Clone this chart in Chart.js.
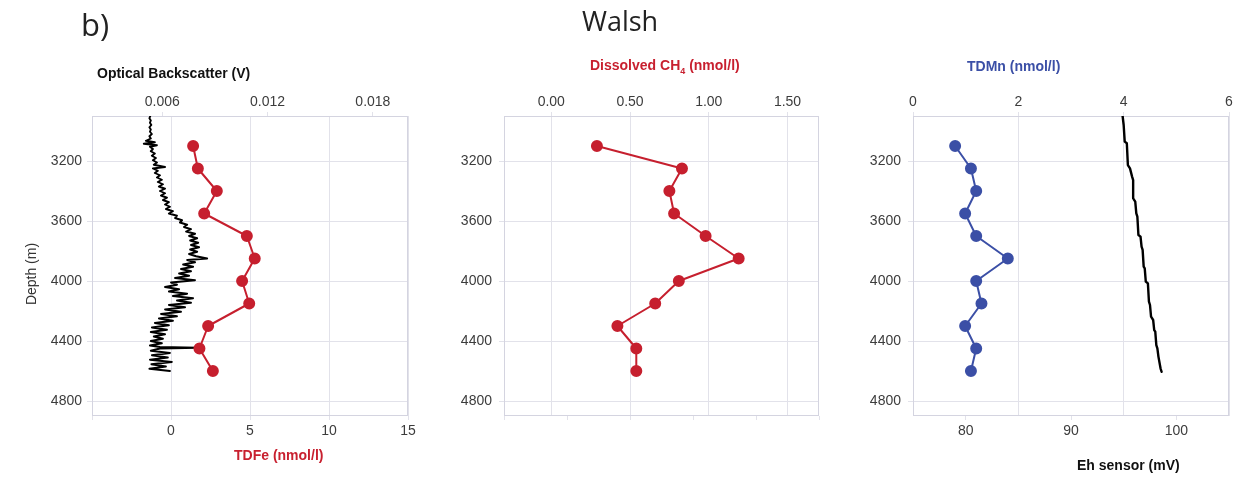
<!DOCTYPE html>
<html>
<head>
<meta charset="utf-8">
<script src="https://cdn.jsdelivr.net/npm/chart.js@4.4.0/dist/chart.umd.min.js"></script>
<style>
  body { margin: 0; width: 1241px; height: 477px; background: #fff; position: relative; overflow: hidden; font-family: "Liberation Sans", Arial, sans-serif; }
  canvas { position: absolute; top: 0; }
  .lbl { position: absolute; font-weight: bold; font-size: 14px; line-height: 16px; white-space: nowrap; z-index: 2; }
  .lbl sub { font-size: 9px; vertical-align: -4px; line-height: 0; }
</style>
</head>
<body>
<canvas id="panel-fe" width="420" height="477" style="left:0px"></canvas>
<canvas id="panel-ch4" width="410" height="477" style="left:430px"></canvas>
<canvas id="panel-mn" width="401" height="477" style="left:840px"></canvas>

<div style="position:absolute;left:81px;top:3px;font:31px 'Open Sans';color:#222">b)</div>
<div style="position:absolute;left:582px;top:2px;font:27px 'Open Sans';color:#222">Walsh</div>
<div style="position:absolute;left:-9px;top:266px;width:80px;text-align:center;font:14px 'Liberation Sans',Arial;color:#333;transform:rotate(-90deg)">Depth (m)</div>
<div class="lbl" style="left:97px;top:65px;color:#111">Optical Backscatter (V)</div>
<div class="lbl" style="left:234px;top:447px;color:#c8202f">TDFe (nmol/l)</div>
<div class="lbl" style="left:590px;top:57px;color:#c8202f">Dissolved CH<sub>4</sub> (nmol/l)</div>
<div class="lbl" style="left:967px;top:58px;color:#3b4fa6">TDMn (nmol/l)</div>
<div class="lbl" style="left:1077px;top:457px;color:#111">Eh sensor (mV)</div>

<script>
// sample depths shared by the bottle data (m)
const sampleDepth = [3100, 3250, 3400, 3550, 3700, 3850, 4000, 4150, 4300, 4450, 4600];
const tdfe = [1.4, 1.7, 2.9, 2.1, 4.8, 5.3, 4.5, 4.95, 2.35, 1.8, 2.65];
const ch4 = [0.29, 0.83, 0.75, 0.78, 0.98, 1.19, 0.81, 0.66, 0.42, 0.54, 0.54];
const tdmn = [0.8, 1.1, 1.2, 0.99, 1.2, 1.8, 1.2, 1.3, 0.99, 1.2, 1.1];

// optical backscatter sensor trace
const obsDepth = [2900, 2915, 2930, 2945, 2960, 2975, 2990, 3005, 3020, 3035, 3050, 3065, 3075, 3085, 3095, 3105,
  3120, 3135, 3150, 3165, 3180, 3195, 3210, 3225, 3240, 3250, 3265, 3280, 3295, 3310, 3325, 3340, 3355, 3370, 3385,
  3400, 3415, 3430, 3445, 3460, 3475, 3490, 3505, 3520, 3535, 3550, 3565, 3580, 3595, 3610, 3625, 3640, 3655, 3670,
  3685, 3700, 3715, 3730, 3745, 3760, 3775, 3790, 3805, 3820, 3835, 3850, 3860, 3875, 3890, 3905, 3920, 3935, 3950,
  3965, 3980, 3995, 4010, 4025, 4040, 4055, 4070, 4085, 4100, 4115, 4130, 4145, 4160, 4175, 4190, 4205, 4220, 4235,
  4250, 4265, 4280, 4295, 4310, 4325, 4340, 4355, 4370, 4385, 4400, 4415, 4430, 4440, 4445, 4450, 4465, 4480, 4495,
  4510, 4525, 4540, 4555, 4570, 4585, 4600];
const obsVolt = [0.00532, 0.00527, 0.00535, 0.00530, 0.00538, 0.00527, 0.00535, 0.00530, 0.00541, 0.00527, 0.00535,
  0.00507, 0.00558, 0.00495, 0.00570, 0.00530, 0.00547, 0.00535, 0.00558, 0.00541, 0.00564, 0.00547, 0.00570, 0.00552,
  0.00616, 0.00547, 0.00575, 0.00558, 0.00587, 0.00570, 0.00598, 0.00575, 0.00604, 0.00581, 0.00616, 0.00587, 0.00616,
  0.00593, 0.00627, 0.00604, 0.00638, 0.00616, 0.00644, 0.00621, 0.00661, 0.00638, 0.00684, 0.00673, 0.00713, 0.00701,
  0.00742, 0.00724, 0.00764, 0.00736, 0.00787, 0.00753, 0.00799, 0.00759, 0.00805, 0.00764, 0.00810, 0.00759, 0.00799,
  0.00753, 0.00793, 0.00856, 0.00742, 0.00787, 0.00719, 0.00776, 0.00707, 0.00764, 0.00696, 0.00753, 0.00673, 0.00787,
  0.00650, 0.00684, 0.00616, 0.00696, 0.00638, 0.00742, 0.00661, 0.00776, 0.00684, 0.00764, 0.00638, 0.00730, 0.00616,
  0.00707, 0.00593, 0.00684, 0.00581, 0.00661, 0.00558, 0.00638, 0.00541, 0.00627, 0.00535, 0.00616, 0.00552, 0.00604,
  0.00535, 0.00598, 0.00530, 0.00587, 0.00805, 0.00587, 0.00535, 0.00644, 0.00541, 0.00632, 0.00530, 0.00655, 0.00538,
  0.00621, 0.00527, 0.00644];

// Eh sensor trace
const ehDepth = [2900, 2960, 3071, 3082, 3227, 3249, 3304, 3327, 3449, 3471, 3549, 3571, 3693, 3704, 3771, 3793,
  3904, 3916, 4004, 4016, 4138, 4160, 4238, 4260, 4327, 4338, 4427, 4449, 4504, 4582, 4605];
const ehValue = [94.9, 95.0, 95.1, 95.3, 95.4, 95.6, 95.8, 95.9, 95.9, 96.1, 96.2, 96.3, 96.4, 96.6, 96.7, 96.8,
  96.9, 97.0, 97.1, 97.3, 97.4, 97.5, 97.6, 97.8, 97.9, 98.0, 98.1, 98.2, 98.3, 98.5, 98.6];

// tick labels
const depthTicks = [3200, 3600, 4000, 4400, 4800];
const obsTicks = [0.006, 0.012, 0.018];
const ch4Ticks = [0, 0.5, 1.0, 1.5];
const ehTicks = [80, 90, 100];

const red = '#c61f2e';
const blue = '#3b4fa6';
const gridColor = '#e2e2ea';
const frameColor = '#d4d4e0';
const tickFont = { family: "'Liberation Sans', Arial, sans-serif", size: 14 };
const tickColor = '#3c3c3c';

const toPoints = (xs, ys) => xs.map((x, i) => ({ x, y: ys[i] }));

// light box round each plot area
const frame = {
  id: 'frame',
  beforeDatasetsDraw(chart) {
    const { ctx, chartArea: a } = chart;
    ctx.save();
    ctx.strokeStyle = frameColor;
    ctx.lineWidth = 1;
    ctx.strokeRect(Math.round(a.left) + 0.5, Math.round(a.top) + 0.5, Math.round(a.width) - 1, Math.round(a.height) - 1);
    ctx.restore();
  }
};

const depthAxis = (width, pad) => ({
  type: 'linear', position: 'left', reverse: true, min: 2900, max: 4900,
  afterBuildTicks: s => { s.ticks = depthTicks.map(v => ({ value: v })); },
  afterFit: s => { s.width = width; },
  grid: { color: gridColor, tickLength: 5 },
  border: { display: false },
  ticks: { color: tickColor, font: tickFont, padding: pad, callback: v => String(v) }
});

const xAxis = (position, extra) => Object.assign({
  type: 'linear', position,
  afterFit: s => { s.height = position === 'top' ? 116 : 61; },
  grid: { color: gridColor, tickLength: 4, drawOnChartArea: false },
  border: { display: false },
  ticks: { color: tickColor, font: tickFont, padding: position === 'top' ? 1 : 3 }
}, extra);

const withTicks = list => s => { s.ticks = list.map(v => ({ value: v })); };

const lineSet = (data, color, axis, dots, width) => ({
  data, xAxisID: axis, yAxisID: 'y', showLine: true,
  borderColor: color, backgroundColor: color,
  borderWidth: width,
  borderJoinStyle: 'round', borderCapStyle: 'round',
  pointRadius: dots ? 5 : 0, pointHoverRadius: dots ? 5 : 0,
  tension: 0
});

const makePanel = (id, padRight, datasets, scales) => new Chart(document.getElementById(id), {
  type: 'scatter',
  data: { datasets },
  options: {
    responsive: false, animation: false,
    layout: { padding: { left: 0, right: padRight, top: 0, bottom: 0 } },
    plugins: { legend: { display: false }, tooltip: { enabled: false } },
    scales
  },
  plugins: [frame]
});

// panel 1: TDFe + optical backscatter
makePanel('panel-fe', 12, [
  lineSet(toPoints(tdfe, sampleDepth), red, 'x', true, 2),
  lineSet(toPoints(obsVolt, obsDepth), '#000', 'xTop', false, 1.9)
], {
  y: depthAxis(92, 5),
  x: xAxis('bottom', {
    min: -5, max: 15,
    grid: { color: gridColor, tickLength: 4, drawOnChartArea: true },
    ticks: { color: tickColor, font: tickFont, padding: 3, stepSize: 5, callback: v => v < 0 ? '' : v }
  }),
  xTop: xAxis('top', {
    min: 0.002, max: 0.020, afterBuildTicks: withTicks(obsTicks),
    ticks: { color: tickColor, font: tickFont, padding: 1, callback: v => v.toFixed(3) }
  })
});

// panel 2: dissolved methane
makePanel('panel-ch4', 21, [
  lineSet(toPoints(ch4, sampleDepth), red, 'xTop', true, 2)
], {
  y: depthAxis(74, 7),
  x: xAxis('bottom', {
    min: 0, max: 5,
    ticks: { display: false, stepSize: 1 }
  }),
  xTop: xAxis('top', {
    min: -0.3, max: 1.7, afterBuildTicks: withTicks(ch4Ticks),
    grid: { color: gridColor, tickLength: 4, drawOnChartArea: true },
    ticks: { color: tickColor, font: tickFont, padding: 1, callback: v => v.toFixed(2) }
  })
});

// panel 3: TDMn + Eh
makePanel('panel-mn', 12, [
  lineSet(toPoints(tdmn, sampleDepth), blue, 'xTop', true, 2),
  lineSet(toPoints(ehValue, ehDepth), '#000', 'x', false, 2.4)
], {
  y: depthAxis(73, 7),
  x: xAxis('bottom', {
    min: 75, max: 105, afterBuildTicks: withTicks(ehTicks)
  }),
  xTop: xAxis('top', {
    min: 0, max: 6,
    grid: { color: gridColor, tickLength: 4, drawOnChartArea: true },
    ticks: { color: tickColor, font: tickFont, padding: 1, stepSize: 2 }
  })
});
</script>
</body>
</html>
